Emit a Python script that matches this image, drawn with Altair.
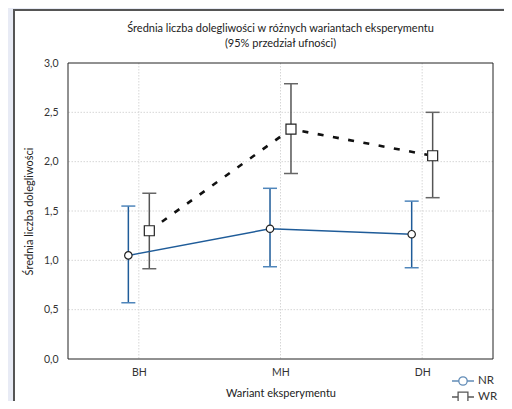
import altair as alt
import pandas as pd

categories = ["BH", "MH", "DH"]
series = ["NR", "WR"]
nr_mean = [1.05, 1.32, 1.265]
nr_lower = [0.57, 0.935, 0.925]
nr_upper = [1.55, 1.73, 1.60]
wr_mean = [1.30, 2.33, 2.06]
wr_lower = [0.915, 1.88, 1.635]
wr_upper = [1.68, 2.79, 2.50]
y_ticks = [0.0, 0.5, 1.0, 1.5, 2.0, 2.5, 3.0]

rows = []
for i, c in enumerate(categories):
    rows.append({"wariant": c, "seria": "NR", "mean": nr_mean[i], "lower": nr_lower[i], "upper": nr_upper[i]})
    rows.append({"wariant": c, "seria": "WR", "mean": wr_mean[i], "lower": wr_lower[i], "upper": wr_upper[i]})
df = pd.DataFrame(rows)

W, H = 425, 296
FONT = "Lato"
BLUE = "#1f5c99"
GRAY = "#555555"
cat_js = "[" + ",".join("'%s'" % c for c in categories) + "]"

xscale = alt.Scale(domain=[-0.5, len(categories) - 0.5], nice=False, zero=False)
yscale = alt.Scale(domain=[0, 3], nice=False)

base = alt.Chart(df).transform_calculate(
    pos="indexof(%s, datum.wariant) + (datum.seria == 'NR' ? -0.074 : 0.074)" % cat_js
)
nr = base.transform_filter("datum.seria == 'NR'")
wr = base.transform_filter("datum.seria == 'WR'")

x_axis = alt.Axis(
    values=list(range(len(categories))),
    labelExpr=cat_js + "[datum.value]",
    title="Wariant eksperymentu", grid=False, domain=False, ticks=False,
    labelPadding=8, titlePadding=10, zindex=1)
x_enc = alt.X("pos:Q", scale=xscale, axis=x_axis)

y_axis = alt.Axis(values=y_ticks, labelExpr="replace(format(datum.value, '.1f'), '.', ',')",
                  title="Średnia liczba dolegliwości", grid=False, domain=False, ticks=False,
                  labelPadding=10, titleX=-34, titleY=H / 2, zindex=1)

# decorative outer panel and plot frame
panel = alt.Chart(alt.Data(values=[{}])).mark_rect(
    fill="white", stroke="#555555", strokeWidth=2
).encode(x=alt.value(-54), x2=alt.value(W + 13), y=alt.value(-53), y2=alt.value(H + 80))

frame = alt.Chart(alt.Data(values=[{}])).mark_rect(
    fill=None, stroke="#222222", strokeWidth=1
).encode(x=alt.value(0), x2=alt.value(W), y=alt.value(0), y2=alt.value(H))

hgrid = alt.Chart(pd.DataFrame({"v": y_ticks[1:-1]})).mark_rule(
    color="#d6d6d6", strokeDash=[1.5, 1.5], strokeWidth=1
).encode(y=alt.Y("v:Q", scale=yscale, axis=y_axis))

vgrid = alt.Chart(pd.DataFrame({"pos": list(range(len(categories)))})).mark_rule(
    color="#d6d6d6", strokeDash=[1.5, 1.5], strokeWidth=1
).encode(x=x_enc)


def errbars(src, col, capcol):
    rule = src.mark_rule(strokeWidth=1.5, color=col).encode(
        x=x_enc, y=alt.Y("lower:Q", scale=yscale, axis=y_axis), y2="upper:Q")
    lo = src.mark_tick(orient="horizontal", size=14, thickness=1.5, color=capcol, opacity=1).encode(
        x=x_enc, y=alt.Y("lower:Q", scale=yscale))
    hi = src.mark_tick(orient="horizontal", size=14, thickness=1.5, color=capcol, opacity=1).encode(
        x=x_enc, y=alt.Y("upper:Q", scale=yscale))
    return [rule, lo, hi]


line_nr = nr.mark_line(color=BLUE, strokeWidth=1.5).encode(x=x_enc, y=alt.Y("mean:Q", scale=yscale))
line_wr = wr.mark_line(color="#111111", strokeWidth=2.6, strokeDash=[6, 9.5]).encode(
    x=x_enc, y=alt.Y("mean:Q", scale=yscale))

pts_nr = nr.mark_point(
    shape="circle", size=55, filled=True, fill="white", stroke="#222222", strokeWidth=1.2, opacity=1
).encode(x=x_enc, y=alt.Y("mean:Q", scale=yscale))
pts_wr = wr.mark_point(
    shape="square", size=100, filled=True, fill="white", stroke="#222222", strokeWidth=1.2, opacity=1
).encode(x=x_enc, y=alt.Y("mean:Q", scale=yscale))

# legend-only layer (draws nothing; legend built from explicit scale domains)
sym_nr = "M-1.57,0H-0.6M0.6,0H1.57M0.6,0A0.6,0.6 0 1 1 -0.6,0A0.6,0.6 0 1 1 0.6,0Z"
sym_wr = "M-1.57,0H-0.7M0.7,0H1.57M-0.7,-0.7H0.7V0.7H-0.7Z"
legend_layer = base.transform_filter("false").mark_point(filled=False, strokeWidth=1.3).encode(
    x=x_enc, y=alt.Y("mean:Q", scale=yscale),
    shape=alt.Shape("seria:N", scale=alt.Scale(domain=series, range=[sym_nr, sym_wr]),
                    legend=alt.Legend(title=None, orient="none", legendX=387, legendY=310,
                                      symbolSize=196, symbolStrokeWidth=1.3,
                                      symbolFillColor="white", labelFontSize=11.5,
                                      labelFont=FONT, labelColor="#333333", rowPadding=1,
                                      labelOffset=7, padding=0)),
    stroke=alt.Stroke("seria:N", scale=alt.Scale(domain=series, range=[BLUE, "#111111"])),
)

layers = [panel, hgrid, vgrid, frame] + errbars(nr, BLUE, "#4f86bb") + errbars(wr, GRAY, "#666666") + [
    line_nr, line_wr, pts_nr, pts_wr, legend_layer]

chart = alt.layer(*layers).properties(
    width=W, height=H,
    title=alt.TitleParams(
        text=["Średnia liczba dolegliwości w różnych wariantach eksperymentu", "(95% przedział ufności)"],
        font=FONT, fontSize=11, fontWeight="normal", color="#222222", anchor="middle", offset=-40,
        lineHeight=15, frame="group"),
    padding={"left": 60, "top": 55, "right": 11, "bottom": 42},
    autosize=alt.AutoSizeParams(type="none"),
).configure(background="#e8ebf5").configure_view(stroke=None).configure_axis(
    labelFont=FONT, titleFont=FONT, labelFontSize=10.5, titleFontSize=11,
    labelColor="#333333", titleColor="#222222", titleFontWeight="normal"
)

chart.save("out.html", embed_options={"renderer": "svg", "actions": False})
